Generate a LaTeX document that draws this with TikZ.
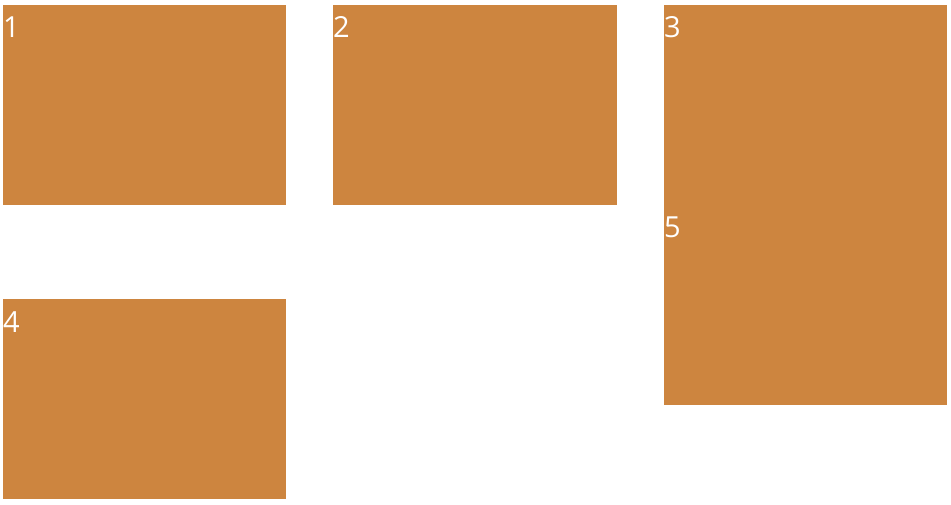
\documentclass[tikz,border=0pt]{standalone}
\usepackage{fontspec}
\setmainfont{Open Sans}
\definecolor{boxc}{HTML}{CD853F}
\begin{document}
\begin{tikzpicture}[x=1pt,y=-1pt,
  tile/.style={fill=boxc,draw=none,inner sep=0pt,outer sep=0pt},
  lbl/.style={text=white,font=\fontsize{29}{33}\selectfont,anchor=base west,inner sep=0pt}]
\useasboundingbox (0,0) rectangle (951,505);
\fill[tile] (3,5) rectangle (286,205);
\fill[tile] (333,5) rectangle (617,205);
\fill[tile] (664,5) rectangle (947,205);
\fill[tile] (664,205) rectangle (947,405);
\fill[tile] (3,299) rectangle (286,499);
\node[lbl] (l1) at (3,38) {1};
\node[lbl] (l2) at (333,38) {2};
\node[lbl] (l3) at (664,38) {3};
\node[lbl] (l5) at (664,238) {5};
\node[lbl] (l4) at (3,332) {4};
\end{tikzpicture}
\end{document}
